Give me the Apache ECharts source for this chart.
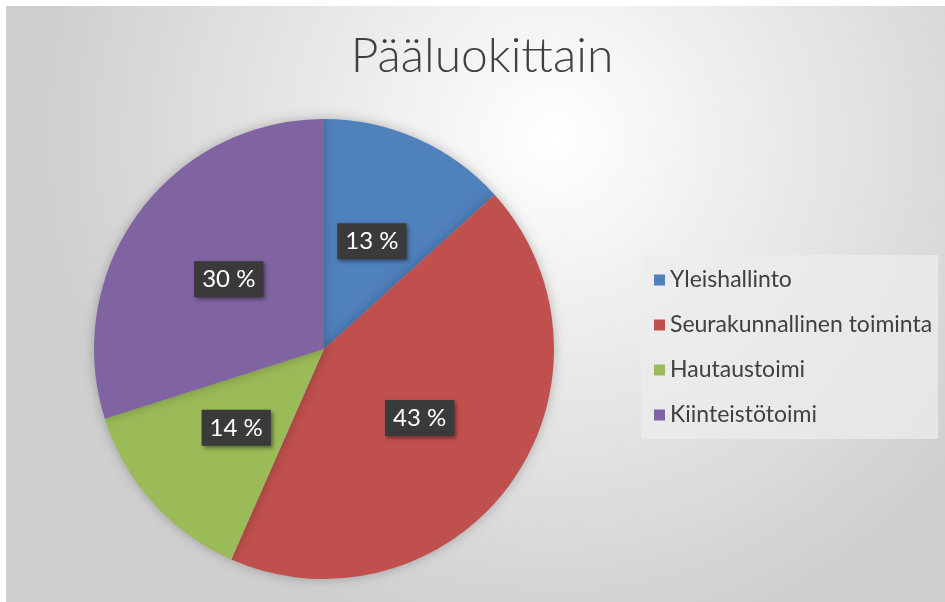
<!DOCTYPE html>
<html>
<head>
<meta charset="utf-8">
<script src="https://cdn.jsdelivr.net/npm/echarts@6/dist/echarts.min.js"></script>
<style>
  html, body { margin: 0; padding: 0; background: #fff; }
  #chart { width: 945px; height: 602px; }
</style>
</head>
<body>
<div id="chart"></div>
<script>
// Pääluokittain - osuudet
const categories = ['Yleishallinto', 'Seurakunnallinen toiminta', 'Hautaustoimi', 'Kiinteistötoimi']
const values = [13.3, 43.3, 13.5, 29.9]
const colors = ['#4f81bd', '#c0504d', '#9bbb59', '#8064a2']

const chart = echarts.init(document.getElementById('chart'))

const option = {
  backgroundColor: '#ffffff',
  graphic: [{
    type: 'rect',
    left: 6,
    top: 6,
    shape: { width: 945, height: 602 },
    silent: true,
    z: -10,
    style: {
      fill: new echarts.graphic.RadialGradient(0.58, 0.22, 0.85, [
        { offset: 0, color: '#ffffff' },
        { offset: 1, color: '#cfcfcf' }
      ])
    }
  }],
  title: {
    text: 'Pääluokittain',
    left: 477,
    textAlign: 'center',
    top: 28,
    textStyle: {
      fontFamily: 'Lato',
      fontWeight: 300,
      fontSize: 48,
      color: '#404040'
    }
  },
  legend: {
    orient: 'vertical',
    left: 641,
    top: 255,
    padding: [13, 6, 12, 13],
    backgroundColor: 'rgba(236,236,236,0.75)',
    icon: 'rect',
    itemWidth: 11,
    itemHeight: 11,
    itemGap: 21,
    textStyle: {
      fontFamily: 'Lato',
      fontSize: 23,
      lineHeight: 24,
      color: '#404040'
    },
    data: categories
  },
  series: [{
    type: 'pie',
    center: [324, 349],
    radius: 230,
    startAngle: 90,
    clockwise: true,
    silent: true,
    itemStyle: {
      shadowBlur: 12,
      shadowColor: 'rgba(0,0,0,0.25)'
    },
    label: {
      show: true,
      position: 'inside',
      formatter: p => Math.round(p.percent) + ' %',
      fontFamily: 'Lato',
      fontSize: 24,
      color: '#ffffff',
      backgroundColor: '#3a3a3a',
      padding: [6, 8, 6, 8],
      shadowBlur: 4,
      shadowOffsetX: 2,
      shadowOffsetY: 2,
      shadowColor: 'rgba(0,0,0,0.45)'
    },
    labelLine: { show: false },
    data: categories.map((name, i) => ({
      name,
      value: values[i],
      itemStyle: { color: colors[i] }
    }))
  }]
}

chart.setOption(option)
</script>
</body>
</html>
